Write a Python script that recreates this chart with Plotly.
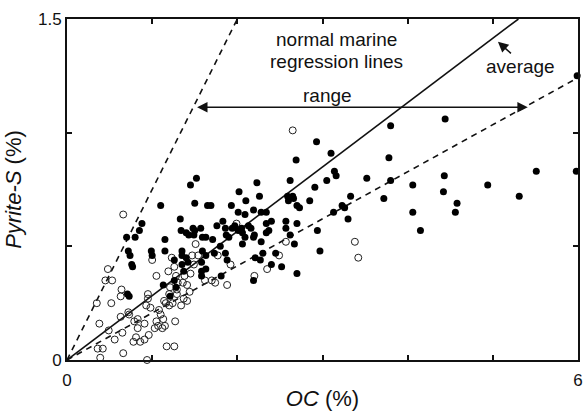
import plotly.graph_objects as go

# ---- data ----
filled_oc = [5.99, 4.44, 3.80, 2.93, 3.10, 2.69, 3.78, 3.14, 3.16, 3.05, 2.62, 3.52, 3.80, 4.06, 4.43, 4.42,
             2.23, 2.26, 2.91, 2.59, 2.65, 2.60, 2.66, 2.85, 2.70, 2.73, 3.33, 3.72, 3.23, 3.26, 3.13, 3.30,
             4.06, 4.15, 2.19, 2.28, 2.34, 2.57, 2.70, 2.40, 2.34, 2.13, 2.20, 2.57, 2.34, 2.37, 2.62, 2.94,
             2.28, 2.67, 2.30, 2.45, 2.21, 2.27, 2.97, 2.40, 2.52, 2.70,
             4.58, 4.56, 4.94, 5.31, 5.51, 5.98,
             1.52, 1.45, 2.02, 1.10, 1.50, 1.65, 1.69, 1.93, 2.10, 2.01, 2.09, 1.83, 1.33, 0.88, 0.85, 0.80,
             0.70, 1.15, 1.34, 1.40, 1.43, 1.48, 1.50, 1.49, 1.57, 1.59, 1.63, 1.71, 1.76, 1.86, 1.94, 1.97,
             2.01, 2.06, 2.05, 2.16, 1.87, 1.90, 2.06, 2.09, 2.19, 1.80, 0.72, 0.74, 0.99, 1.00, 1.15, 1.35,
             1.35, 1.59, 1.26, 1.40, 1.42, 1.63, 1.58, 1.86, 1.88, 1.73, 0.76, 0.77, 1.35, 1.37, 1.63, 1.58,
             1.13, 1.26, 1.28, 1.81, 2.19, 0.71, 0.73, 1.21, 1.58]
filled_s = [1.25, 1.06, 1.03, 0.96, 0.91, 0.88, 0.89, 0.83, 0.81, 0.79, 0.79, 0.80, 0.79, 0.77, 0.81, 0.74,
            0.78, 0.72, 0.76, 0.72, 0.72, 0.70, 0.71, 0.70, 0.68, 0.67, 0.72, 0.71, 0.68, 0.67, 0.65, 0.62,
            0.65, 0.57, 0.66, 0.65, 0.65, 0.61, 0.60, 0.61, 0.60, 0.59, 0.55, 0.58, 0.56, 0.57, 0.55, 0.57,
            0.52, 0.51, 0.47, 0.47, 0.45, 0.44, 0.48, 0.42, 0.41, 0.38,
            0.69, 0.65, 0.77, 0.72, 0.83, 0.83,
            0.80, 0.77, 0.74, 0.68, 0.69, 0.68, 0.68, 0.68, 0.70, 0.65, 0.64, 0.61, 0.62, 0.60, 0.57, 0.54,
            0.54, 0.53, 0.57, 0.56, 0.55, 0.58, 0.57, 0.55, 0.58, 0.54, 0.54, 0.53, 0.59, 0.58, 0.58, 0.59,
            0.57, 0.56, 0.58, 0.58, 0.55, 0.54, 0.51, 0.54, 0.54, 0.50, 0.48, 0.46, 0.48, 0.46, 0.48, 0.48,
            0.46, 0.48, 0.44, 0.45, 0.43, 0.46, 0.43, 0.47, 0.44, 0.47, 0.42, 0.41, 0.42, 0.39, 0.40, 0.37,
            0.33, 0.35, 0.32, 0.37, 0.35, 0.29, 0.28, 0.28, 0.39]

open_oc = [2.65, 2.57, 3.38, 2.49, 3.42, 2.35, 2.20, 0.66, 0.48, 0.45, 0.53, 0.64, 1.00, 1.23, 1.26, 1.19,
           1.05, 1.51, 1.47, 1.54, 1.77, 1.38, 1.30, 1.36, 1.21, 1.41, 1.44, 1.62, 1.70, 1.74, 1.88, 1.92,
           1.99, 0.95, 1.20, 0.63, 0.35, 0.52, 0.38, 0.63, 0.49, 0.73, 0.83, 0.79, 0.83, 0.95, 0.98, 0.93,
           0.72, 0.91, 0.65, 0.56, 0.81, 0.78, 0.86, 0.91, 0.36, 0.42, 0.66, 0.39, 0.94, 1.28, 1.29, 1.16,
           1.20, 1.29, 1.37, 1.24, 1.34, 1.41, 1.08, 1.10, 1.13, 1.05, 1.07, 1.03, 1.12, 1.15, 0.96, 1.27,
           1.17, 1.26, 1.49, 1.45, 1.14]
open_s = [1.01, 0.52, 0.52, 0.46, 0.45, 0.40, 0.37, 0.64, 0.40, 0.35, 0.35, 0.31, 0.44, 0.45, 0.41, 0.39,
          0.37, 0.51, 0.46, 0.46, 0.46, 0.37, 0.34, 0.34, 0.32, 0.33, 0.30, 0.35, 0.35, 0.34, 0.33, 0.42,
          0.60, 0.29, 0.29, 0.28, 0.25, 0.25, 0.16, 0.19, 0.13, 0.20, 0.18, 0.17, 0.14, 0.27, 0.23, 0.24,
          0.21, 0.16, 0.12, 0.09, 0.10, 0.08, 0.08, 0.09, 0.05, 0.05, 0.03, 0.01, 0.00, 0.37, 0.31, 0.25,
          0.24, 0.29, 0.27, 0.25, 0.24, 0.26, 0.22, 0.20, 0.18, 0.17, 0.15, 0.14, 0.14, 0.15, 0.11, 0.17,
          0.06, 0.06, 0.42, 0.38, 0.26]

# regression line slopes (Pyrite-S / OC): range limits and average
slope_low = 0.207
slope_avg = 0.283
slope_high = 0.75

x_ticks = [0, 1, 2, 3, 4, 5, 6]
x_ticktext = ["0", "", "", "", "", "", "6"]
y_ticks = [0, 0.5, 1.0, 1.5]
y_ticktext = ["0", "", "", "1.5"]

XMAX, YMAX = 6, 1.5
FONT = "Liberation Sans, Arial, Helvetica, sans-serif"
INK = "#111111"


def line_end(slope):
    x_end = min(XMAX, YMAX / slope)
    return [0, x_end], [0, slope * x_end]


fig = go.Figure()

for slope, dash in [(slope_high, "6px,5px"), (slope_low, "6px,5px"), (slope_avg, "solid")]:
    lx, ly = line_end(slope)
    fig.add_trace(go.Scatter(x=lx, y=ly, mode="lines",
                             line=dict(color=INK, width=1.6, dash=dash),
                             hoverinfo="skip", showlegend=False, cliponaxis=True))

fig.add_trace(go.Scatter(x=open_oc, y=open_s, mode="markers",
                         marker=dict(symbol="circle-open", size=7, color="#222222",
                                     line=dict(width=1, color="#222222")),
                         showlegend=False, cliponaxis=False))
fig.add_trace(go.Scatter(x=filled_oc, y=filled_s, mode="markers",
                         marker=dict(symbol="circle", size=7, color="#000000"),
                         showlegend=False, cliponaxis=False))

ann_font = dict(family=FONT, size=19, color=INK)
annotations = [
    dict(x=3.17, y=1.41, text="normal marine", showarrow=False, font=ann_font, xanchor="center", yanchor="middle"),
    dict(x=3.17, y=1.315, text="regression lines", showarrow=False, font=ann_font, xanchor="center", yanchor="middle"),
    dict(x=3.06, y=1.165, text="range", showarrow=False, font=ann_font, xanchor="center", yanchor="middle"),
    dict(x=5.33, y=1.29, text="average", showarrow=False, font=ann_font, xanchor="center", yanchor="middle"),
    # range double arrow
    dict(x=5.41, y=1.112, ax=1.51, ay=1.112, axref="x", ayref="y", xref="x", yref="y",
         text="", showarrow=True, arrowhead=2, startarrowhead=2, arrowside="end+start",
         arrowsize=1.3, startarrowsize=1.3, arrowwidth=1.6, arrowcolor=INK),
    # average arrow
    dict(x=5.06, y=1.40, ax=5.23, ay=1.343, axref="x", ayref="y", xref="x", yref="y",
         text="", showarrow=True, arrowhead=2, arrowsize=1.3, arrowwidth=1.6, arrowcolor=INK),
]

axis_common = dict(showgrid=False, zeroline=False, showline=True, linecolor=INK, linewidth=2,
                   mirror="allticks", ticks="inside", ticklen=5, tickwidth=1.5, tickcolor=INK,
                   ticklabeloverflow="allow",
                   tickfont=dict(family=FONT, size=17, color=INK))

fig.update_layout(
    width=584, height=411,
    margin=dict(l=67, r=1, t=19, b=48),
    paper_bgcolor="white", plot_bgcolor="white",
    font=dict(family=FONT, color=INK),
    annotations=annotations,
    xaxis=dict(range=[0, XMAX], tickvals=x_ticks, ticktext=x_ticktext, ticklabelstandoff=4,
               title=dict(text="<i>OC</i> (%)", font=dict(family=FONT, size=22, color=INK), standoff=4),
               **axis_common),
    yaxis=dict(range=[0, YMAX], tickvals=y_ticks, ticktext=y_ticktext,
               title=dict(text="<i>Pyrite-S</i> (%)", font=dict(family=FONT, size=22, color=INK), standoff=10),
               **axis_common),
)

fig.write_html("out.html")
